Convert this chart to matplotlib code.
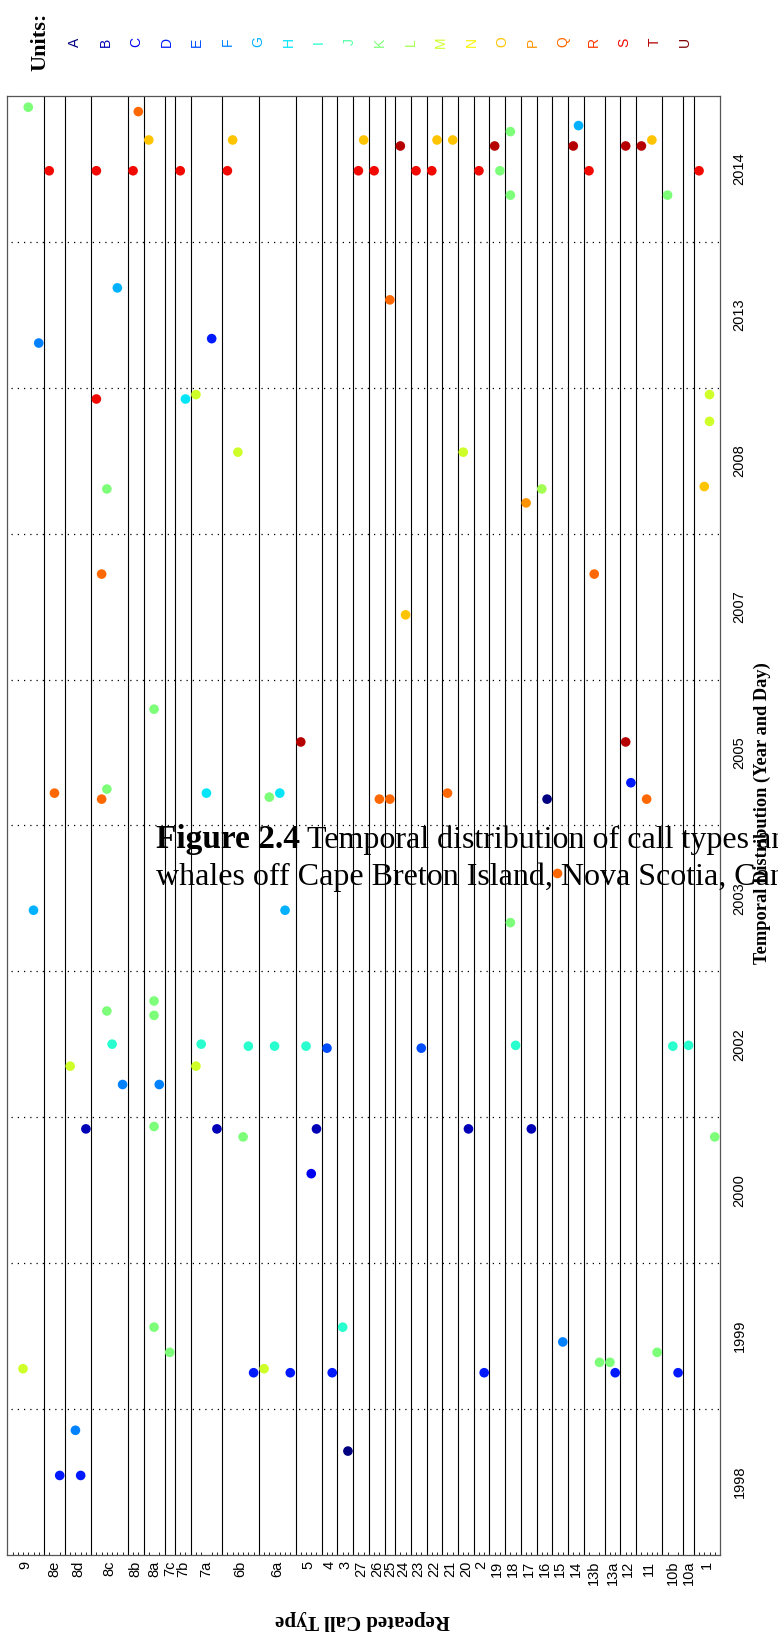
import numpy as np
import matplotlib
matplotlib.use("Agg")
import matplotlib.pyplot as plt

# call types along the (rotated) horizontal axis and the rows each one takes
call_types = ['9', '8e', '8d', '8c', '8b', '8a', '7c', '7b', '7a', '6b', '6a', '5', '4', '3',
              '27', '26', '25', '24', '23', '22', '21', '20', '2', '19', '18', '17', '16', '15',
              '14', '13b', '13a', '12', '11', '10b', '10a', '1']
type_rows = [7, 4, 5, 7, 3, 4, 2, 3, 6, 7, 7, 5, 3, 3,
             3, 3, 2, 3, 3, 3, 3, 3, 3, 3, 3, 3, 3, 3,
             3, 4, 3, 3, 5, 4, 2, 5]

years = [1998, 1999, 2000, 2002, 2003, 2005, 2007, 2008, 2013, 2014]
units = list('ABCDEFGHIJKLMNOPQRSTU')

# recordings: row, year, day of year, unit
rec_row = [4, 25, 27, 43, 68, 75, 8, 17, 24, 33, 42, 67, 70, 78, 81, 82, 85, 90, 93, 94,
           96, 96, 109, 108, 111, 118, 121, 123, 126, 132,
           21, 6, 39, 73,
           17, 34, 36, 44, 134, 134, 87, 19, 102, 99, 133,
           18, 112, 76,
           28, 56, 9, 19, 18, 38, 50, 52, 71, 73, 84, 103, 118, 119, 122,
           5, 53, 105, 96,
           28, 28, 19, 20, 37, 46, 51, 57, 61, 12, 36, 22, 29, 79, 97, 127, 130,
           15, 28, 40, 45, 59, 58, 88, 100, 135,
           3, 28, 31, 47, 49, 54, 62, 64, 91, 106, 113, 115, 116, 124, 128,
           10, 14, 13, 65]
rec_year = [2014] * 30 + [2013] * 4 + [2008] * 11 + [2007] * 3 + [2005] * 15 + \
           [2003] * 4 + [2002] * 17 + [2000] * 9 + [1999] * 15 + [1998] * 4
rec_day = [337, 326, 255, 255, 255, 240, 178, 178, 178, 178, 178, 178, 178, 178, 178, 255, 255, 178, 240, 178,
           276, 117, 291, 240, 178, 240, 240, 255, 117, 178,
           250, 112, 123, 220,
           337, 337, 348, 204, 348, 281, 204, 112, 112, 77, 118,
           264, 264, 162,
           291, 209, 81, 91, 66, 81, 71, 81, 66, 66, 81, 66, 209, 107, 66,
           153, 153, 245, 122,
           291, 255, 266, 183, 183, 178, 178, 178, 173, 128, 128, 82, 82, 173, 180, 178, 180,
           336, 342, 336, 316, 336, 224, 336, 336, 316,
           101, 205, 142, 91, 101, 91, 91, 205, 91, 168, 117, 117, 91, 142, 91,
           199, 199, 312, 260]
rec_unit = list('KQOOOTSSSSSSSSSOOSTK' 'KKGTSTTOKS'
                'GFDQ'
                'SHMMMMMKLPO'
                'QQO'
                'KTQKQHKHQQQATDQ'
                'GGQK'
                'KKKIIIIIEMMFFEIII'
                'BKBKBCBBK'
                'MKKDMDDIDFKKDKD'
                'DDFA')

jet = plt.cm.jet(np.linspace(0, 1, len(units)))
sans = ['Liberation Sans', 'DejaVu Sans']
serif = ['Liberation Serif', 'DejaVu Serif']

fig = plt.figure(figsize=(7.78, 16.46), dpi=100)
ax = fig.add_axes([7.3 / 778, 1 - 1555 / 1646, (720 - 7.3) / 778, (1555 - 96) / 1646])

bounds = np.cumsum(type_rows)
centers = bounds - np.array(type_rows) / 2
ax.set_xlim(0, bounds[-1])
ax.set_ylim(0, len(years))

for b in bounds[:-1]:
    ax.axvline(b, color='black', lw=0.8, zorder=1)
ax.hlines(np.arange(1, len(years)), 0.8, bounds[-1], colors='black', lw=0.9,
          linestyles=(0, (1, 4)), zorder=1)

xs = np.array(rec_row)
ys = np.array([years.index(yr) + d / 365 for yr, d in zip(rec_year, rec_day)])
cs = [jet[units.index(u)] for u in rec_unit]
ax.scatter(xs, ys, s=48, c=cs, edgecolors='none', zorder=3)

ax.set_xticks(centers)
ax.set_xticklabels(call_types, rotation=90, fontsize=10.5, family=sans)
ax.set_xticks(np.arange(1, bounds[-1]), minor=True)
ax.tick_params(axis='x', which='major', length=0, pad=4)
ax.tick_params(axis='x', which='minor', direction='in', length=2, width=0.6, top=False)

ax.yaxis.tick_right()
ax.set_yticks(np.arange(len(years)) + 0.5)
ax.set_yticklabels([str(y) for y in years], rotation=90, va='center', fontsize=10.5, family=sans)
ax.tick_params(axis='y', length=0, pad=9)

for sp in ax.spines.values():
    sp.set_color('#555555')
    sp.set_linewidth(0.9)

fig.text(363 / 778, 1 - 1620 / 1646, 'Repeated Call Type', rotation=180, ha='center', va='center',
         fontsize=15, fontweight='bold', family=serif)
fig.text(762 / 778, 1 - 813 / 1646, 'Temporal Distribution (Year and Day)', rotation=90,
         ha='center', va='center', fontsize=13.2, fontweight='bold', family=serif)

# unit colour key
fig.text(40 / 778, 1 - 42 / 1646, 'Units:', rotation=90, ha='center', va='center',
         fontsize=16, fontweight='bold', family=serif)
for i, u in enumerate(units):
    fig.text((75 + 30.5 * i) / 778, 1 - 42 / 1646, u, rotation=90, ha='center', va='center',
             fontsize=10, color=jet[i], family=sans)

# caption overlaid across the page
cap1 = fig.text(156 / 778, 1 - 848 / 1646, 'Figure 2.4', fontsize=24, fontweight='bold',
                family=serif, va='baseline', zorder=5)
fig.canvas.draw()
bb = cap1.get_window_extent()
fig.text(bb.x1 / fig.bbox.width + 7 / 778, 1 - 848 / 1646,
         'Temporal distribution of call types and units of long-finned pilot',
         fontsize=23, family=serif, va='baseline', zorder=5)
fig.text(156 / 778, 1 - 885 / 1646,
         'whales off Cape Breton Island, Nova Scotia, Canada.',
         fontsize=23, family=serif, va='baseline', zorder=5)

fig.savefig('out.png', dpi=100)
